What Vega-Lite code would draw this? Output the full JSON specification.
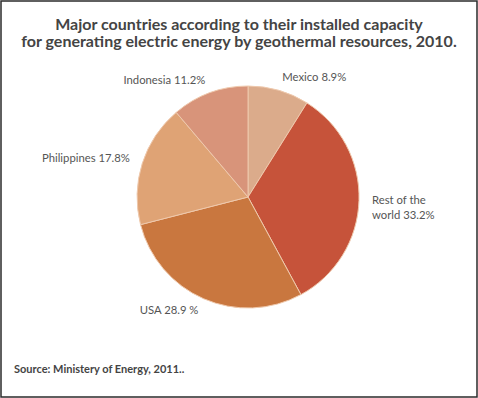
{
  "$schema": "https://vega.github.io/schema/vega-lite/v6.json",
  "width": 476,
  "height": 396,
  "padding": 1,
  "autosize": {"type": "none"},
  "background": "white",
  "config": {
    "view": {"stroke": "#2b2b2b", "strokeWidth": 1.5},
    "font": "Lato"
  },
  "title": {
    "text": ["Major countries according to their installed capacity", "for generating electric energy by geothermal resources, 2010."],
    "frame": "group",
    "anchor": "middle",
    "baseline": "alphabetic",
    "offset": -62,
    "font": "Lato",
    "fontSize": 16,
    "fontWeight": "bold",
    "lineHeight": 17.5,
    "color": "#444444"
  },
  "layer": [
    {
      "data": {"values": [
        {"country": "Mexico", "share": 8.9, "order": 1, "label": "Mexico 8.9%"},
        {"country": "Rest of the world", "share": 33.2, "order": 2, "label": "Rest of the\nworld 33.2%"},
        {"country": "USA", "share": 28.9, "order": 3, "label": "USA 28.9 %"},
        {"country": "Philippines", "share": 17.8, "order": 4, "label": "Philippines 17.8%"},
        {"country": "Indonesia", "share": 11.2, "order": 5, "label": "Indonesia 11.2%"}
      ]},
      "encoding": {
        "theta": {"field": "share", "type": "quantitative", "stack": true},
        "order": {"field": "order", "type": "quantitative"},
        "x": {"datum": 51.9, "type": "quantitative", "scale": {"domain": [0, 100]}, "axis": null},
        "y": {"datum": 50.5, "type": "quantitative", "scale": {"domain": [0, 100]}, "axis": null}
      },
      "layer": [
        {
          "mark": {"type": "arc", "outerRadius": 111, "stroke": "#efc9ad", "strokeWidth": 1},
          "encoding": {
            "color": {
              "field": "country",
              "type": "nominal",
              "legend": null,
              "scale": {
                "domain": ["Mexico", "Rest of the world", "USA", "Philippines", "Indonesia"],
                "range": ["#dbab8b", "#c6533a", "#c9773f", "#dfa375", "#d8947a"]
              }
            }
          }
        },
        {
          "mark": {
            "type": "text",
            "radius": 124,
            "fontSize": 11.3,
            "color": "#555555",
            "lineBreak": "\n",
            "lineHeight": 15,
            "font": "Lato",
            "align": {"expr": "(datum.share_start + datum.share_end) < 100 ? 'left' : 'right'"}
          },
          "encoding": {
            "text": {"field": "label", "type": "nominal"}
          }
        }
      ]
    },
    {
      "data": {"values": [{"note": "Source: Ministery of Energy, 2011.."}]},
      "mark": {"type": "text", "align": "left", "baseline": "alphabetic", "fontSize": 11, "fontWeight": "bold", "color": "#444444", "font": "Lato"},
      "encoding": {
        "x": {"datum": 2.73, "type": "quantitative"},
        "y": {"datum": 6.06, "type": "quantitative"},
        "text": {"field": "note", "type": "nominal"}
      }
    }
  ]
}
